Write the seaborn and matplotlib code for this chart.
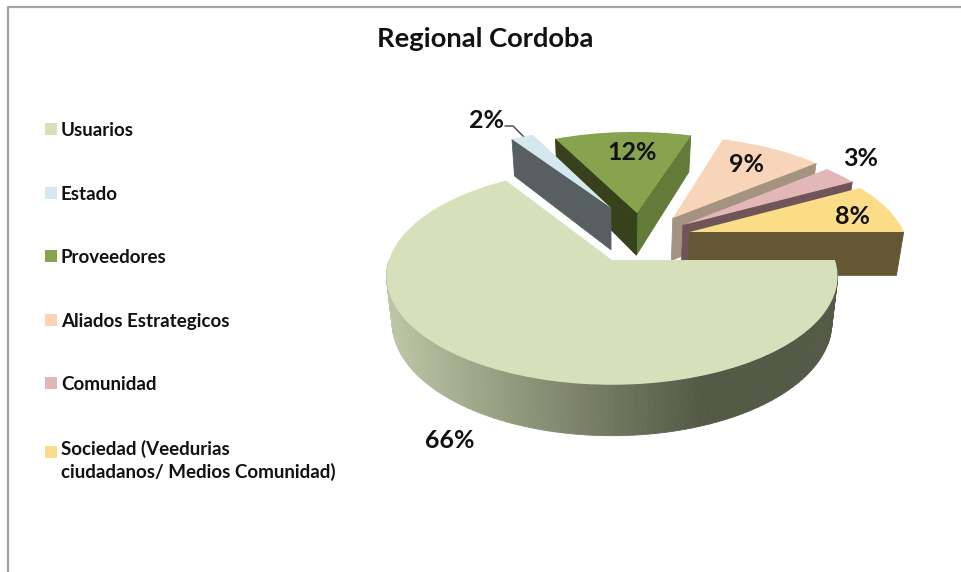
import numpy as np
import matplotlib
matplotlib.use("Agg")
import matplotlib.pyplot as plt
import matplotlib.patches as mpatches
import matplotlib.transforms as mtransforms
from matplotlib.colors import to_rgb
import seaborn as sns

# ---- data ----
categories = ["Usuarios", "Estado", "Proveedores", "Aliados Estrategicos", "Comunidad",
              "Sociedad (Veedurias\nciudadanos/ Medios Comunidad)"]
values = [66, 2, 12, 9, 3, 8]
value_labels = ["66%", "2%", "12%", "9%", "3%", "8%"]
title = "Regional Cordoba"

# ---- style ----
top_colors = ["#d6e1bb", "#d5e8ef", "#87a34d", "#f8d5b8", "#e3b7b7", "#fcdd87"]
wall_colors = [None, "#575f60", "#37411c", "#a59381", "#6f5558", "#655733"]
wall_colors_right = {2: "#637b39"}
explode_xy = [(0, 0), (-0.005, 0.53), (0.12, 0.475), (0.29, 0.421), (0.335, 0.347), (0.362, 0.275)]
draw_order = [2, 1, 3, 4, 5, 0]
label_pos = [(450, 440), (487, 121), (632, 153), (746, 165), (861, 159), (853, 216)]

CX, CY, F, G, K = 612.0, 260.0, 223.0, 106.0, 0.15

sns.set_theme(style="white")
plt.rcParams["font.family"] = ["Lato", "DejaVu Sans"]
palette = sns.color_palette(top_colors)


class Plate(mtransforms.Transform):
    """Tilted-plate perspective from pie coordinates to pixel-like data coordinates."""
    input_dims = output_dims = 2
    is_separable = False
    has_inverse = False

    def __init__(self, a, b):
        super().__init__()
        self.a, self.b = a, b

    def transform_non_affine(self, xy):
        xy = np.asarray(xy, dtype=float)
        x = xy[:, 0] + self.a
        y = xy[:, 1] + self.b
        d = 1 + K * y
        return np.column_stack([CX + F * x / d, CY - G * y / d])


def bottom(pts, plate_y):
    out = pts.copy()
    out[:, 0] = CX + (pts[:, 0] - CX) * 0.975
    out[:, 1] = pts[:, 1] + 45 - 6 * plate_y
    return out


def gradient(x):
    stops_x = [395, 500, 600, 700]
    stops_c = np.array([to_rgb(c) for c in ["#bcc5a5", "#969f82", "#767b63", "#555a47"]])
    return tuple(np.interp(x, stops_x, stops_c[:, i]) for i in range(3))


fig = plt.figure(figsize=(9.61, 5.72), dpi=100)
ax = fig.add_axes([0, 0, 1, 1])
wedges, _ = ax.pie(values, colors=palette, startangle=0, counterclock=False,
                   wedgeprops=dict(linewidth=0))
ax.set_aspect("auto")
ax.set_xlim(0, 961)
ax.set_ylim(572, 0)

for order, i in enumerate(draw_order):
    w = wedges[i]
    plate = Plate(*explode_xy[i])
    w.set_transform(plate + ax.transData)
    w.set_zorder(10 + order * 2 + 1)
    w.set_antialiased(True)
    # ring of the wedge's outline, counter-clockwise, in pie coordinates
    t = np.radians(np.linspace(w.theta1, w.theta2, 160))
    arc = np.column_stack([np.cos(t), np.sin(t)])
    outline = np.vstack([[0, 0], arc, [0, 0]])
    top = plate.transform_non_affine(outline)
    bot = bottom(top, outline[:, 1] + explode_xy[i][1])
    for j in range(len(outline) - 1):
        dx, dy = outline[j + 1] - outline[j]
        if -dx >= -1e-9:  # outward normal points away from the viewer
            continue
        quad = np.vstack([top[j], top[j + 1], bot[j + 1], bot[j]])
        if wall_colors[i] is None:
            col = gradient(quad[:, 0].mean())
        elif j == 0 and i in wall_colors_right:
            col = wall_colors_right[i]
        else:
            col = wall_colors[i]
        ax.fill(quad[:, 0], quad[:, 1], color=col, lw=0.6, zorder=10 + order * 2)

for (x, y), s in zip(label_pos, value_labels):
    ax.text(x, y, s, ha="center", va="center", fontsize=18, fontweight="bold",
            color="#111111", zorder=40)

ax.plot([505, 513, 528], [126, 126, 141], color="#444444", lw=1, zorder=9)
ax.text(485, 39, title, ha="center", va="center", fontsize=19.7, fontweight="bold",
        color="#111111")

# chart frame
ax.plot([8, 8, 961], [572, 7, 7], color="#a3a3a3", lw=1.6, zorder=1)

handles = [mpatches.Patch(color=c, lw=0) for c in palette]
fs = 13.5
px = fs * 100 / 72
leg = ax.legend(handles, categories, loc="upper left", bbox_to_anchor=(45, 122),
                bbox_transform=ax.transData, frameon=False, prop=dict(size=fs, weight="bold"),
                labelcolor="#111111", borderpad=0, borderaxespad=0,
                handlelength=12 / px, handleheight=0.6, handletextpad=4 / px,
                labelspacing=46.5 / px)
leg.get_texts()[-1].set_linespacing(1.35)
last = leg.legend_handles[-1]
last.set_y(last.get_y() + 6.0)  # marker sits on the first line of the two-line entry

fig.savefig("out.png", dpi=100)
